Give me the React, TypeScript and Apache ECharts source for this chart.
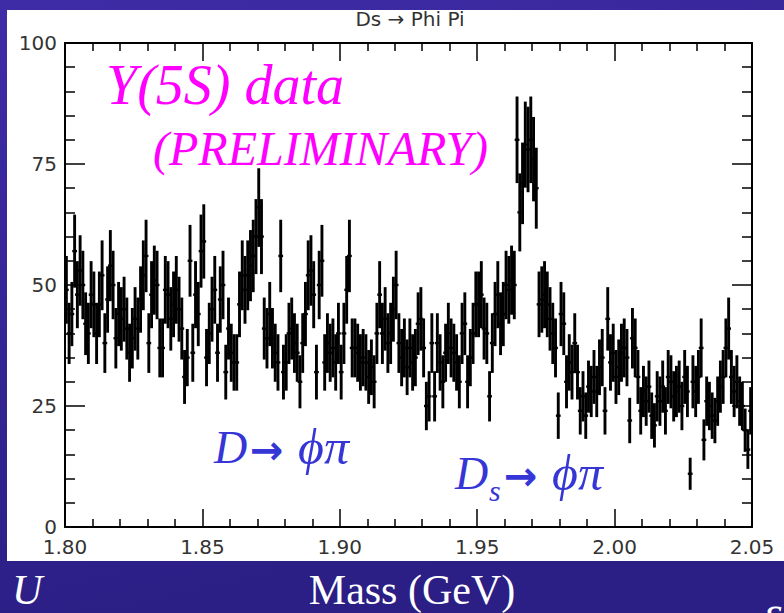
import React, { useEffect, useRef } from "react";
import * as echarts from "echarts";

// Mass axis in units of 0.01 GeV (180 = 1.80 GeV) to avoid float drift
const massMin = 180;
const massMax = 205;
const binWidth = 0.1; // 0.001 GeV
const xTickStep = 5;
const yTicks = [0, 25, 50, 75, 100];

const titleText = "Ds \u2192 Phi Pi";
const xAxisTitle = "Mass (GeV)";

// Entries per 1 MeV bin
const counts180_185 = [
  49, 40, 44, 57, 48, 53, 50, 42, 40, 48,
  46, 40, 46, 52, 38, 47, 54, 50, 39, 44,
  43, 45, 41, 36, 39, 43, 41, 47, 52, 56,
  38, 48, 51, 50, 37, 37, 49, 48, 43, 46,
  49, 45, 41, 31, 35, 55, 36, 48, 44, 57,
];
const counts185_190 = [
  59, 35, 40, 45, 49, 36, 47, 50, 32, 41,
  36, 34, 34, 46, 52, 49, 52, 54, 56, 60,
  66, 60, 41, 39, 44, 39, 36, 34, 56, 32,
  34, 40, 41, 38, 36, 30, 38, 44, 52, 53,
  48, 32, 50, 55, 34, 38, 36, 37, 34, 40,
];
const counts190_195 = [
  32, 40, 49, 56, 37, 37, 36, 34, 35, 34,
  31, 33, 30, 40, 48, 40, 43, 38, 40, 45,
  50, 38, 35, 37, 33, 37, 34, 35, 42, 43,
  37, 25, 27, 38, 27, 38, 34, 30, 36, 40,
  37, 36, 34, 30, 40, 42, 30, 35, 40, 46,
];
const counts195_200 = [
  46, 48, 41, 40, 27, 38, 44, 48, 42, 44,
  50, 49, 51, 50, 80, 65, 71, 79, 78, 80,
  76, 70, 46, 47, 48, 46, 43, 40, 37, 23,
  44, 42, 30, 34, 32, 38, 32, 24, 27, 23,
  29, 28, 31, 28, 33, 35, 24, 43, 34, 36,
];
const counts200_205 = [
  31, 33, 36, 37, 35, 22, 39, 37, 31, 24,
  28, 26, 29, 23, 21, 27, 26, 29, 24, 31,
  30, 27, 28, 29, 25, 31, 28, 11, 30, 28,
  31, 37, 18, 26, 25, 23, 22, 26, 29, 31,
  37, 41, 31, 28, 30, 26, 25, 20, 16, 24,
];

const counts = [
  ...counts180_185,
  ...counts185_190,
  ...counts190_195,
  ...counts195_200,
  ...counts200_205,
];

export default function App() {
  const ref = useRef<HTMLDivElement>(null);

  useEffect(() => {
    if (!ref.current) return;
    const chart = echarts.init(ref.current, null, { renderer: "svg" });

    const data = counts.map((v, i) => [massMin + (i + 0.5) * binWidth, v, Math.sqrt(v)]);

    const tickFont = "DejaVu Sans";
    const serif = "Liberation Serif";
    const blue = "#3636d6";
    const magenta = "#ff00ff";

    const axisCommon = {
      axisLine: { show: true, onZero: false, lineStyle: { color: "#000", width: 2 } },
      splitLine: { show: false },
    };

    const txt = (
      text: string,
      x: number,
      y: number,
      fontSize: number,
      fill: string,
      extra: any = {}
    ) => ({
      type: "text",
      z: 50,
      x,
      y,
      style: {
        text,
        align: "left",
        verticalAlign: "middle",
        fontFamily: serif,
        fontStyle: "italic",
        fontSize,
        fill,
        ...extra,
      },
    });

    const option: any = {
      animation: false,
      backgroundColor: new echarts.graphic.LinearGradient(0, 0, 0.3, 1, [
        { offset: 0, color: "#3e2ca6" },
        { offset: 1, color: "#2b1e84" },
      ]),
      grid: { left: 65, right: 32, top: 43, bottom: 86, containLabel: false },
      xAxis: [
        {
          type: "value",
          position: "bottom",
          min: massMin,
          max: massMax,
          interval: xTickStep,
          ...axisCommon,
          axisTick: { show: true, inside: true, length: 18, lineStyle: { color: "#000", width: 1.5 } },
          minorTick: { show: true, splitNumber: 5, length: 8, lineStyle: { color: "#000", width: 1.5 } },
          axisLabel: {
            formatter: (v: number) => (v / 100).toFixed(2),
            fontFamily: tickFont,
            fontSize: 20,
            lineHeight: 16,
            color: "#333",
            margin: 12,
          },
        },
        {
          type: "value",
          position: "top",
          min: massMin,
          max: massMax,
          interval: xTickStep,
          ...axisCommon,
          axisTick: { show: true, inside: true, length: 18, lineStyle: { color: "#000", width: 1.5 } },
          minorTick: { show: true, splitNumber: 5, length: 8, lineStyle: { color: "#000", width: 1.5 } },
          axisLabel: { show: false },
        },
      ],
      yAxis: [
        {
          type: "value",
          position: "left",
          min: yTicks[0],
          max: yTicks[yTicks.length - 1],
          interval: yTicks[1] - yTicks[0],
          ...axisCommon,
          axisTick: { show: true, inside: true, length: 20, lineStyle: { color: "#000", width: 1.5 } },
          minorTick: { show: true, splitNumber: 5, length: 10, lineStyle: { color: "#000", width: 1.5 } },
          axisLabel: { fontFamily: tickFont, fontSize: 20, lineHeight: 16, color: "#333", margin: 8 },
        },
        {
          type: "value",
          position: "right",
          min: yTicks[0],
          max: yTicks[yTicks.length - 1],
          interval: yTicks[1] - yTicks[0],
          ...axisCommon,
          axisTick: { show: true, inside: true, length: 20, lineStyle: { color: "#000", width: 1.5 } },
          minorTick: { show: true, splitNumber: 5, length: 10, lineStyle: { color: "#000", width: 1.5 } },
          axisLabel: { show: false },
        },
      ],
      series: [
        {
          type: "custom",
          name: "Y(5S) data",
          xAxisIndex: 0,
          yAxisIndex: 0,
          clip: true,
          data,
          encode: { x: 0, y: 1 },
          renderItem: (params: any, api: any) => {
            const x = api.value(0);
            const v = api.value(1);
            const e = api.value(2);
            const top = api.coord([x, v + e]);
            const bot = api.coord([x, Math.max(v - e, 0)]);
            const l = api.coord([x - binWidth / 2, v]);
            const r = api.coord([x + binWidth / 2, v]);
            return {
              type: "group",
              children: [
                {
                  type: "line",
                  shape: { x1: top[0], y1: top[1], x2: bot[0], y2: bot[1] },
                  style: { stroke: "#000", lineWidth: 2.9 },
                },
                {
                  type: "line",
                  shape: { x1: l[0] - 1, y1: l[1], x2: r[0] + 1, y2: r[1] },
                  style: { stroke: "#000", lineWidth: 2.4 },
                },
              ],
            };
          },
        },
      ],
      graphic: [
        {
          type: "rect",
          z: -10,
          shape: { x: 7, y: 10, width: 777, height: 551 },
          style: { fill: "#ffffff" },
        },
        {
          type: "text",
          z: 50,
          x: 410,
          y: 19,
          style: {
            text: titleText,
            align: "center",
            verticalAlign: "middle",
            fontFamily: tickFont,
            fontSize: 20,
            fill: "#333",
          },
        },
        txt("Y(5S) data", 106, 85, 56, magenta),
        txt("(PRELIMINARY)", 153, 148, 48, magenta),
        // D -> phi pi
        txt("D", 214, 447, 46, blue),
        txt("\u2192", 250, 450, 40, blue, { fontFamily: tickFont, fontStyle: "normal", fontWeight: "bold" }),
        txt("\u03d5\u03c0", 298, 447, 50, blue),
        // Ds -> phi pi
        txt("D", 455, 473, 46, blue),
        txt("s", 489, 490, 30, blue),
        txt("\u2192", 504, 476, 40, blue, { fontFamily: tickFont, fontStyle: "normal", fontWeight: "bold" }),
        txt("\u03d5\u03c0", 552, 473, 50, blue),
        // slide texts
        {
          type: "text",
          z: 50,
          x: 412,
          y: 590,
          style: {
            text: xAxisTitle,
            align: "center",
            verticalAlign: "middle",
            fontFamily: serif,
            fontSize: 42,
            lineHeight: 40,
            fill: "#ffffff",
          },
        },
        txt("U", 12, 590, 42, "#ffffff", { lineHeight: 40 }),
        txt("\u03b5", 764, 612, 44, "#ffffff"),
      ],
    };

    chart.setOption(option);
    return () => chart.dispose();
  }, []);

  return (
    <div
      ref={ref}
      style={{ position: "fixed", left: 0, top: 0, width: 784, height: 613 }}
    />
  );
}
